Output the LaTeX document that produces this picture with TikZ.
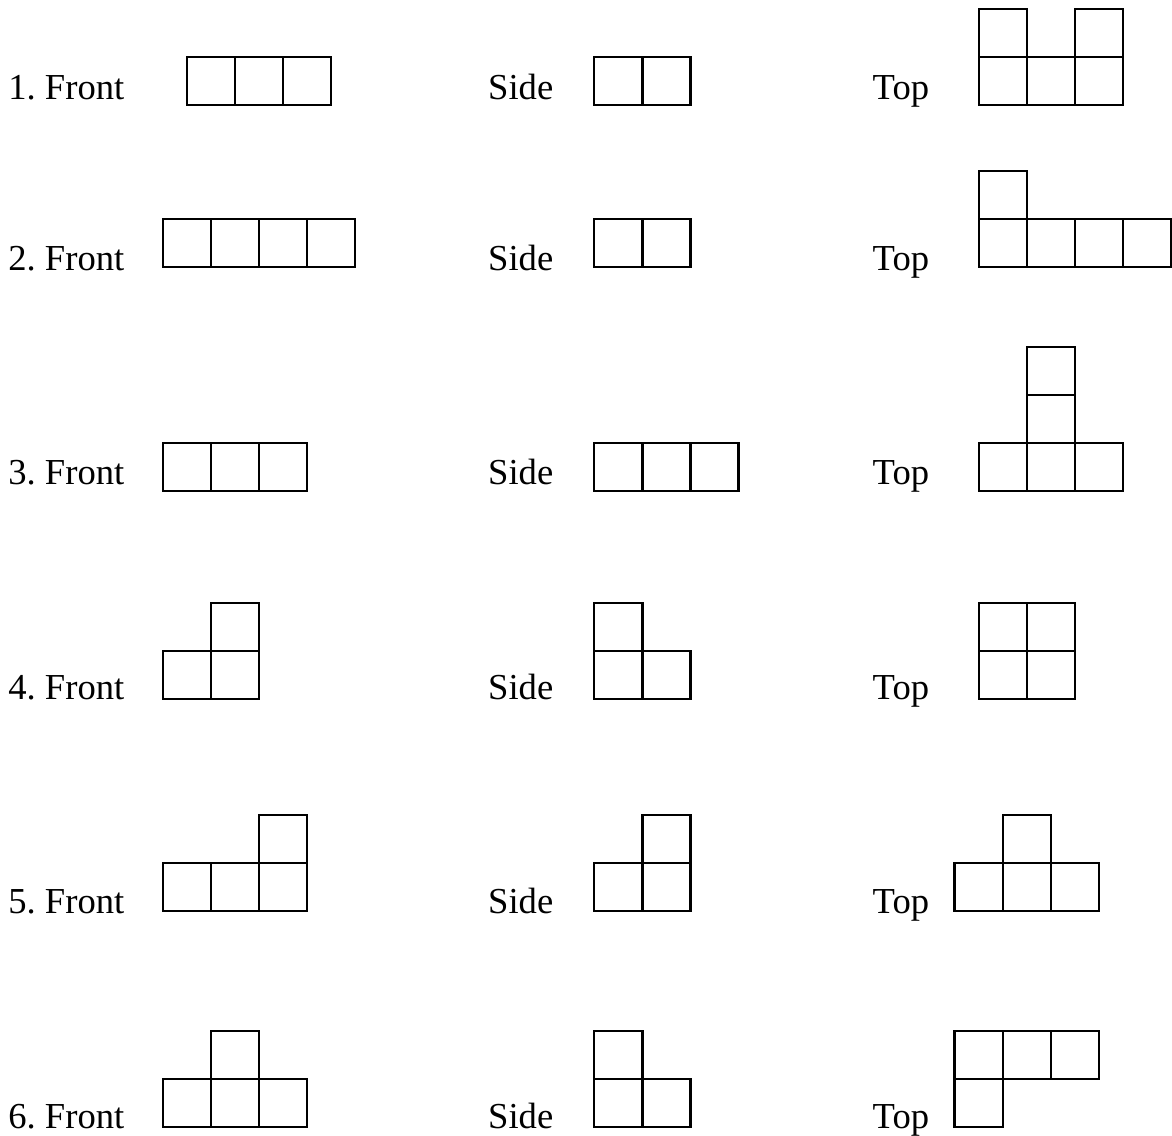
\documentclass[tikz,border=0pt]{standalone}
\usepackage{fontspec}
\setmainfont{Liberation Serif}
\frenchspacing

\tikzset{
  cell/.style={line width=2.3pt},
  view/.style={anchor=base west,inner sep=0pt,
    font=\fontsize{36.6}{40}\selectfont}
}

\begin{document}
\begin{tikzpicture}[x=48.1pt,y=48.1pt]
  \useasboundingbox (0,0) rectangle (24.366,23.597);

  % row 1
  \node[view] (front1) at (0.17,21.538) {1. Front};
  \node[view] (side1) at (10.146,21.538) {Side};
  \node[view] (top1) at (18.14,21.538) {Top};
  \begin{scope}[shift={(3.881,21.407)}]
    \foreach \i/\j in {0/0,1/0,2/0}
      \draw[cell] (\i,\j) rectangle ++(1,1);
  \end{scope}
  \begin{scope}[shift={(12.356,21.407)}]
    \foreach \i/\j in {0/0,1/0}
      \draw[cell] (\i,\j) rectangle ++(1,1);
  \end{scope}
  \begin{scope}[shift={(20.347,21.407)}]
    \foreach \i/\j in {0/0,1/0,2/0,0/1,2/1}
      \draw[cell] (\i,\j) rectangle ++(1,1);
  \end{scope}

  % row 2
  \node[view] (front2) at (0.17,17.97) {2. Front};
  \node[view] (side2) at (10.146,17.97) {Side};
  \node[view] (top2) at (18.14,17.97) {Top};
  \begin{scope}[shift={(3.383,18.046)}]
    \foreach \i/\j in {0/0,1/0,2/0,3/0}
      \draw[cell] (\i,\j) rectangle ++(1,1);
  \end{scope}
  \begin{scope}[shift={(12.356,18.046)}]
    \foreach \i/\j in {0/0,1/0}
      \draw[cell] (\i,\j) rectangle ++(1,1);
  \end{scope}
  \begin{scope}[shift={(20.347,18.046)}]
    \foreach \i/\j in {0/0,1/0,2/0,3/0,0/1}
      \draw[cell] (\i,\j) rectangle ++(1,1);
  \end{scope}

  % row 3
  \node[view] (front3) at (0.17,13.534) {3. Front};
  \node[view] (side3) at (10.146,13.534) {Side};
  \node[view] (top3) at (18.14,13.534) {Top};
  \begin{scope}[shift={(3.383,13.389)}]
    \foreach \i/\j in {0/0,1/0,2/0}
      \draw[cell] (\i,\j) rectangle ++(1,1);
  \end{scope}
  \begin{scope}[shift={(12.356,13.389)}]
    \foreach \i/\j in {0/0,1/0,2/0}
      \draw[cell] (\i,\j) rectangle ++(1,1);
  \end{scope}
  \begin{scope}[shift={(20.347,13.389)}]
    \foreach \i/\j in {0/0,1/0,2/0,1/1,1/2}
      \draw[cell] (\i,\j) rectangle ++(1,1);
  \end{scope}

  % row 4
  \node[view] (front4) at (0.17,9.044) {4. Front};
  \node[view] (side4) at (10.146,9.044) {Side};
  \node[view] (top4) at (18.14,9.044) {Top};
  \begin{scope}[shift={(3.383,9.064)}]
    \foreach \i/\j in {0/0,1/0,1/1}
      \draw[cell] (\i,\j) rectangle ++(1,1);
  \end{scope}
  \begin{scope}[shift={(12.356,9.064)}]
    \foreach \i/\j in {0/0,1/0,0/1}
      \draw[cell] (\i,\j) rectangle ++(1,1);
  \end{scope}
  \begin{scope}[shift={(20.347,9.064)}]
    \foreach \i/\j in {0/0,1/0,0/1,1/1}
      \draw[cell] (\i,\j) rectangle ++(1,1);
  \end{scope}

  % row 5
  \node[view] (front5) at (0.17,4.595) {5. Front};
  \node[view] (side5) at (10.146,4.595) {Side};
  \node[view] (top5) at (18.14,4.595) {Top};
  \begin{scope}[shift={(3.383,4.657)}]
    \foreach \i/\j in {0/0,1/0,2/0,2/1}
      \draw[cell] (\i,\j) rectangle ++(1,1);
  \end{scope}
  \begin{scope}[shift={(12.356,4.657)}]
    \foreach \i/\j in {0/0,1/0,1/1}
      \draw[cell] (\i,\j) rectangle ++(1,1);
  \end{scope}
  \begin{scope}[shift={(19.847,4.657)}]
    \foreach \i/\j in {0/0,1/0,2/0,1/1}
      \draw[cell] (\i,\j) rectangle ++(1,1);
  \end{scope}

  % row 6
  \node[view] (front6) at (0.17,0.139) {6. Front};
  \node[view] (side6) at (10.146,0.139) {Side};
  \node[view] (top6) at (18.14,0.139) {Top};
  \begin{scope}[shift={(3.383,0.166)}]
    \foreach \i/\j in {0/0,1/0,2/0,1/1}
      \draw[cell] (\i,\j) rectangle ++(1,1);
  \end{scope}
  \begin{scope}[shift={(12.356,0.166)}]
    \foreach \i/\j in {0/0,1/0,0/1}
      \draw[cell] (\i,\j) rectangle ++(1,1);
  \end{scope}
  \begin{scope}[shift={(19.847,0.166)}]
    \foreach \i/\j in {0/0,0/1,1/1,2/1}
      \draw[cell] (\i,\j) rectangle ++(1,1);
  \end{scope}
\end{tikzpicture}
\end{document}
